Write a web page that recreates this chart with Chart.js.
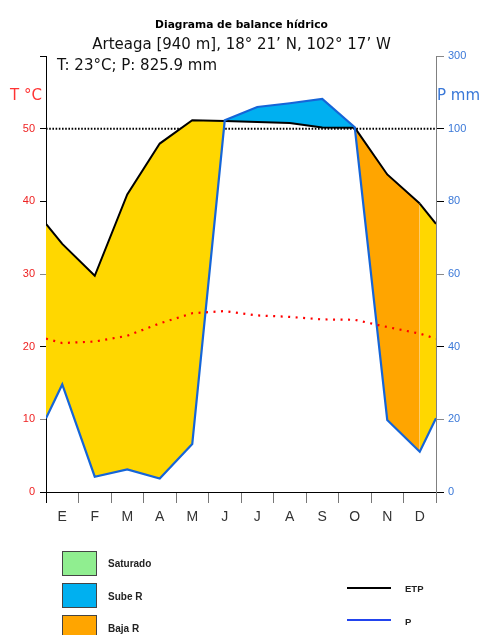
<!DOCTYPE html>
<html><head><meta charset="utf-8">
<script src="https://cdn.jsdelivr.net/npm/chart.js@4"></script>
<style>
html,body{margin:0;padding:0;background:#fff;}
#wrap{position:relative;width:483px;height:635px;overflow:hidden;background:#fff;}
canvas{position:absolute;left:0;top:0;}
.t{position:absolute;white-space:nowrap;line-height:1;}
.box{position:absolute;box-sizing:border-box;width:35px;height:25px;border:1px solid #444;left:62px;}
.lab{position:absolute;white-space:nowrap;line-height:10px;font:bold 10px 'Liberation Sans',Arial,sans-serif;color:#222;}
.ln{position:absolute;left:347px;width:44px;height:2px;}
</style></head><body>
<div id="wrap">
<canvas id="c" width="483" height="635"></canvas>
<div class="t" style="left:0;width:483px;text-align:center;top:17.6px;font:bold 10.7px 'DejaVu Sans',sans-serif;color:#000;">Diagrama de balance hídrico</div>
<div class="t" style="left:0;width:483px;text-align:center;top:34.6px;font:15px 'DejaVu Sans',sans-serif;color:#111;">Arteaga [940 m], 18° 21’ N, 102° 17’ W</div>
<div class="t" style="left:57px;top:55.6px;font:15px 'DejaVu Sans',sans-serif;color:#111;">T: 23°C; P: 825.9 mm</div>
<div class="t" style="left:10px;top:86.3px;font:15px 'DejaVu Sans',sans-serif;color:#ff3333;">T °C</div>
<div class="t" style="left:437px;top:86.3px;font:15px 'DejaVu Sans',sans-serif;color:#3a78d8;">P mm</div>

<div class="box" style="top:551px;background:#90EE90;"></div>
<div class="lab" style="left:108px;top:558.4px;">Saturado</div>
<div class="box" style="top:582.5px;background:#00B0F0;"></div>
<div class="lab" style="left:108px;top:590.8px;">Sube R</div>
<div class="box" style="top:615px;background:#FFA500;"></div>
<div class="lab" style="left:108px;top:622.8px;">Baja R</div>

<div class="ln" style="top:587px;background:#000;"></div>
<div class="lab" style="left:405px;top:583px;font-size:9.5px;">ETP</div>
<div class="ln" style="top:619px;background:#2244ee;"></div>
<div class="lab" style="left:405px;top:615.6px;font-size:9.5px;">P</div>
</div>
<script>
// ---- data ----
const months = ['E','F','M','A','M','J','J','A','S','O','N','D'];
const tempC = [20.5, 20.7, 21.5, 23.2, 24.6, 24.9, 24.3, 24.1, 23.75, 23.7, 22.7, 21.8];
const precipMm = [29.6, 4.2, 6.2, 3.7, 13.2, 123, 159.6, 170, 182, 103.8, 19.8, 11.1];
const etpMm = [68.3, 59.5, 81.9, 95.9, 123, 121, 118.4, 115.6, 103, 102.7, 87.4, 79.4];
// values where the curves meet the left/right frame of the plot
const edgeTemp = 21.1;
const edgePrecip = 20.3;
const edgeEtp = 73.8;
// water-balance state of the interval that starts at each month
const balanceState = ['deficit','deficit','deficit','deficit','deficit','sube','sube','sube','sube','baja','baja','deficit'];
const tempTickLabels = [0, 10, 20, 30, 40, 50];
const precipTickLabels = [0, 20, 40, 60, 80, 100, 300];
const refLevelC = 50;

const stateColors = {deficit:'#FFD700', sube:'#00B0F0', baja:'#FFA500', saturado:'#90EE90'};

// Walter-Lieth style precipitation scale: 1 °C = 2 mm up to 100 mm, then 1 °C = 20 mm
function mmToAxis(v){ return v <= 100 ? v / 2 : 50 + (v - 100) / 20; }
function series(edge, vals, conv){
  const pts = [{x:0, y:conv(edge)}];
  vals.forEach((v,i)=>pts.push({x:i+0.5, y:conv(v)}));
  pts.push({x:12, y:conv(edge)});
  return pts;
}
const ident = v => v;
function stateOfSegment(p0){ return p0 === 0 ? balanceState[11] : balanceState[p0-1]; }

const leftTickColors = ['#000','#888','#000','#888','#000','#000','#000'];
const rightTickColors = ['#000','#888','#000','#888','#000','#000','#888'];

new Chart(document.getElementById('c'), {
  type:'line',
  data:{
    datasets:[
      {label:'T', data:series(edgeTemp, tempC, ident), borderColor:'#ff0000', borderWidth:2.2, borderDash:[2,5.5], fill:false, order:0},
      {label:'P', data:series(edgePrecip, precipMm, mmToAxis), borderColor:'#1565d8', borderWidth:2.2, fill:false, order:1},
      {label:'ETP', data:series(edgeEtp, etpMm, mmToAxis), borderColor:'#000', borderWidth:2, fill:1, backgroundColor:stateColors.deficit,
        segment:{backgroundColor: ctx => stateColors[stateOfSegment(ctx.p0DataIndex)]}, order:2},
      {label:'ref', data:[{x:0,y:refLevelC},{x:12,y:refLevelC}], borderColor:'#000', borderWidth:2, borderDash:[1.6,1.6], fill:false, order:3}
    ]
  },
  options:{
    responsive:false, animation:false, devicePixelRatio:1,
    layout:{padding:{top:56, left:0, right:0, bottom:103}},
    plugins:{legend:{display:false}, tooltip:{enabled:false}, title:{display:false}},
    elements:{point:{radius:0, hoverRadius:0}, line:{tension:0}},
    scales:{
      x:{type:'linear', min:0, max:12, display:false},
      xm:{type:'category', labels:months, offset:true, position:'bottom',
        grid:{offset:true, drawOnChartArea:false, tickLength:11, tickColor: c => c.index === 0 ? '#000' : '#777'},
        border:{color:'#000', width:1},
        ticks:{color:'#333', font:{family:"'Liberation Sans', Arial, sans-serif", size:14}, padding:6, autoSkip:false, maxRotation:0},
        afterFit: s => { s.height = 40; }
      },
      y:{type:'linear', position:'left', min:0, max:60, z:1,
        ticks:{stepSize:10, color:'#ee2222', padding:5, font:{family:"'Liberation Sans', Arial, sans-serif", size:11},
          callback:(v,i)=> i < tempTickLabels.length ? String(tempTickLabels[i]) : ''},
        grid:{drawOnChartArea:false, tickLength:6, tickColor: c => leftTickColors[c.index] || '#000'},
        border:{color:'#000', width:1},
        afterFit: s => { s.width = 46; }
      },
      y2:{type:'linear', position:'right', min:0, max:60, z:1,
        ticks:{stepSize:10, color:'#3a78d8', padding:4, font:{family:"'Liberation Sans', Arial, sans-serif", size:11},
          callback:(v,i)=> String(precipTickLabels[i])},
        grid:{drawOnChartArea:false, tickLength:8, tickColor: c => rightTickColors[c.index] || '#888'},
        border:{color:'#808080', width:1},
        afterFit: s => { s.width = 47; }
      }
    }
  }
});
</script>
</body></html>
